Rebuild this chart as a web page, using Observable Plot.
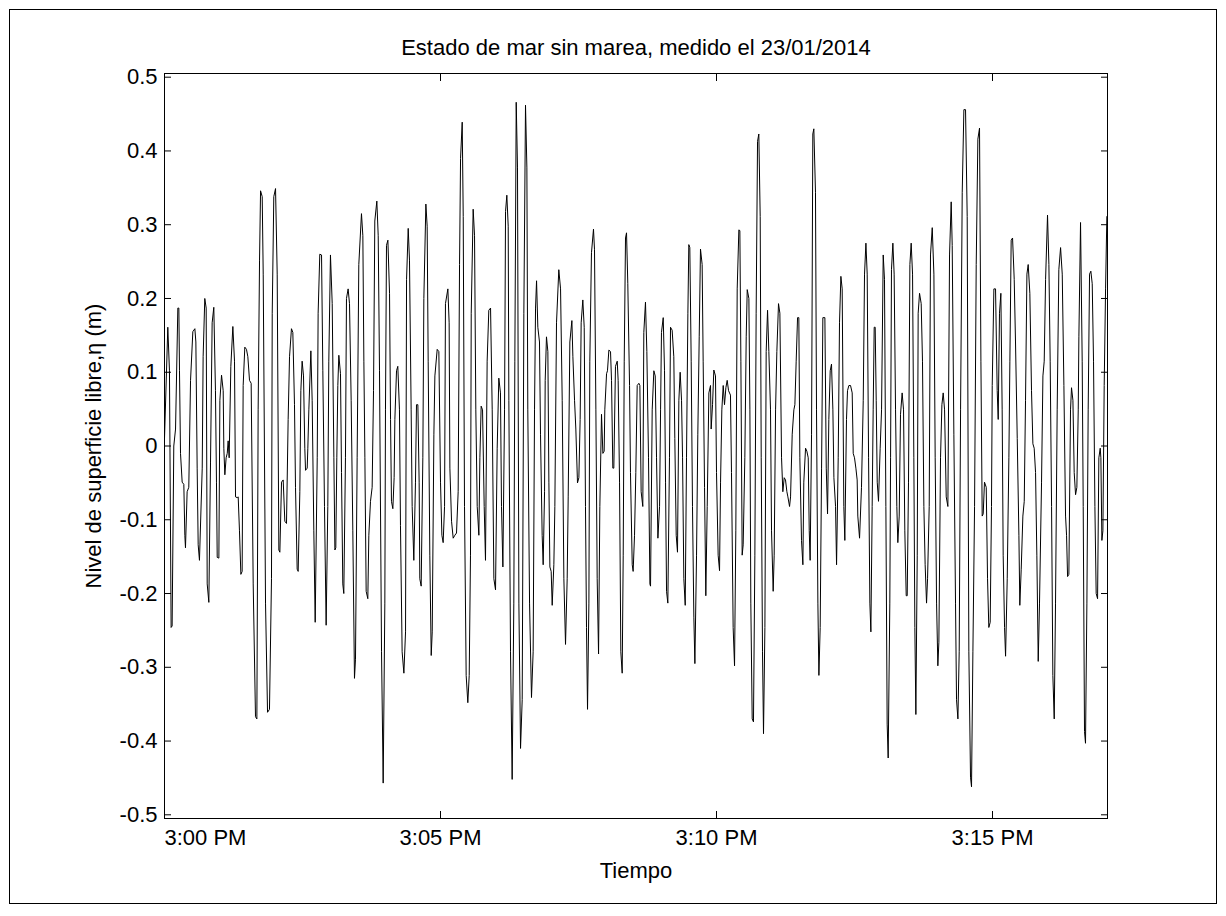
<!DOCTYPE html>
<html>
<head>
<meta charset="utf-8">
<script src="https://cdn.jsdelivr.net/npm/d3@7"></script>
<script src="https://cdn.jsdelivr.net/npm/@observablehq/plot@0.6"></script>
<style>
  html, body { margin: 0; padding: 0; background: #fff; }
  #fig { position: relative; width: 1226px; height: 916px; }
  #edge { position: absolute; left: 9px; top: 9px; width: 1208px; height: 895px;
          border: 1px solid #000; box-sizing: border-box; pointer-events: none; }
  #fig svg { position: absolute; left: 0; top: 0; }
</style>
</head>
<body>
<div id="fig"><div id="edge"></div></div>
<script>
// Free-surface elevation record, 23/01/2014 from 3:00 PM.
// Each pair is [seconds after 15:00:00, eta in metres].
const trace1 = [
  [0,0.010],[3.6,0.161],[5.4,0.102],[7.2,-0.246],[8.3,-0.244],[10.1,0.000],[12.0,0.023],[14.5,0.187],
  [15.6,0.187],[16.3,0.102],[17.4,-0.010],[19.2,-0.049],[21.0,-0.052],[22.1,-0.121],[22.8,-0.138],
  [24.6,-0.062],[26.4,-0.056],[28.3,0.089],[30.8,0.155],[33.0,0.159],[34.1,0.141],[35.5,-0.030],
  [36.6,-0.134],[38.0,-0.155],[41.0,-0.030],[42.0,0.121],[43.8,0.200],[45.3,0.187],[46.4,-0.187],
  [48.2,-0.212],[50.0,-0.023],[51.8,0.167],[53.6,0.188],[55.4,0.075],[56.5,-0.049],[57.3,-0.151],
  [59.1,-0.152],[60.2,0.062],[62.0,0.096],[63.8,0.075],[64.5,-0.003],[65.6,-0.039],[67.0,-0.016],
  [68.2,-0.010],[69.2,0.007],[70.3,-0.016],[72.1,0.108],[74.3,0.162],[76.1,0.115],[77.2,-0.069],
  [79.0,-0.070],[80.1,-0.069],[81.5,-0.115],[83.0,-0.174],[84.4,-0.170],[85.5,0.082],[87.3,0.134],
  [89.1,0.131],[90.6,0.121],[92.4,0.089],[94.2,0.085],[96.4,-0.187],[98.9,-0.367],[100.4,-0.370],
  [101.8,0.049],[103.3,0.252],[104.4,0.346],[106.2,0.338],[107.3,0.233],[109.8,-0.213],[112.0,-0.361],
  [114.1,-0.357],[116.3,-0.180],[117.1,0.180],[118.8,0.338],[120.7,0.349]
];
const trace2 = [
  [122.5,0.233],[124.3,-0.141],[125.4,-0.144],[127.2,-0.049],[129.0,-0.046],[130.8,-0.102],[132.6,-0.105],
  [134.4,0.036],[135.9,0.121],[138.0,0.159],[139.5,0.154],[141.3,0.056],[142.4,-0.056],[144.2,-0.167],
  [145.3,-0.170],[147.1,-0.062],[148.2,0.075],[149.6,0.115],[151.1,0.095],[152.5,-0.003],[153.3,-0.033],
  [155.1,-0.030],[155.8,-0.003],[156.9,0.049],[159.1,0.129],[160.5,0.062],[162.3,-0.115],[163.8,-0.239],
  [166.0,-0.016],[167.0,0.180],[168.8,0.260],[170.7,0.259],[172.1,0.102],[173.9,-0.082],[175.7,-0.243],
  [177.5,-0.082],[178.6,0.115],[180.4,0.259],[182.3,0.193],[184.1,-0.016],[185.2,-0.141],[186.2,-0.138],
  [187.3,-0.016],[188.4,0.082],[189.5,0.123],[191.3,0.098],[192.4,-0.036],[193.8,-0.187],[194.9,-0.200],
  [196.7,-0.016],[197.8,0.200],[199.6,0.213],[201.1,0.193],[202.9,0.062],[204.7,-0.115],[206.5,-0.315],
  [207.6,-0.289],[209.4,-0.016],[211.2,0.246],[214.1,0.315],[215.6,0.285],[216.7,0.115],[217.8,-0.016],
  [219.2,-0.197],[221.0,-0.207],[222.1,-0.121],[223.9,-0.075],[225.7,-0.056],[227.2,0.075],[228.6,0.305],
  [230.8,0.332],[232.3,0.285],[233.7,0.102],[235.9,-0.279],[237.7,-0.457],[239.5,-0.213],[240.2,0.049],
  [241.3,0.272],[242.8,0.279],[244.6,0.207],[245.7,0.036],[246.7,-0.075],[248.2,-0.085],[249.6,-0.043]
];
const trace3 = [
  [250.4,0.036],[252.2,0.102],[253.6,0.108],[255.4,0.049],[256.5,-0.108],[258.3,-0.279],[260.2,-0.308],
  [262.0,-0.252],[263.1,0.226],[264.9,0.295],[266.3,0.252],[268.1,0.049],[269.2,-0.082],[271.0,-0.155],
  [272.8,-0.049],[273.9,0.056],[275.4,0.056],[276.8,-0.049],[277.5,-0.180],[279.0,-0.190],[280.8,-0.016],
  [281.9,0.200],[284.1,0.328],[285.5,0.298],[286.6,0.115],[288.4,-0.148],[289.9,-0.284],[291.0,-0.252],
  [292.8,0.016],[293.9,0.095],[296.4,0.131],[298.2,0.128],[300.0,-0.049],[301.5,-0.121],[302.9,-0.131],
  [304.4,-0.082],[305.4,0.193],[308.0,0.213],[309.4,0.167],[310.2,-0.030],[312.0,-0.102],[313.8,-0.125],
  [315.6,-0.121],[317.4,-0.118],[319.2,-0.062],[320.7,0.246],[321.8,0.390],[323.6,0.439],[324.7,0.311],
  [326.1,-0.082],[327.9,-0.311],[329.7,-0.348],[331.2,-0.311],[332.6,-0.148],[333.4,0.180],[335.5,0.321],
  [337.0,0.285],[338.4,0.049],[339.9,-0.082],[341.7,-0.121],[342.8,-0.016],[344.2,0.054],[345.7,0.049],
  [347.5,-0.082],[348.9,-0.155],[350.7,0.115],[352.5,0.184],[354.4,0.187],[356.2,0.049],[358.0,-0.180],
  [359.8,-0.195],[361.6,-0.003],[363.4,0.092],[365.2,0.072],[366.3,-0.082],[367.8,-0.164],[369.6,0.049],
  [370.7,0.318],[372.1,0.340],[373.6,0.298]
];
const trace4 = [
  [374.3,0.062],[376.1,-0.279],[377.9,-0.452],[379.7,-0.213],[380.8,0.115],[382.3,0.466],[383.7,0.377],
  [385.2,-0.213],[387.0,-0.410],[388.8,-0.344],[390.6,0.180],[392.4,0.462],[393.9,0.377],[394.9,0.049],
  [396.8,-0.213],[398.9,-0.341],[400.7,-0.279],[402.2,0.049],[403.3,0.187],[404.4,0.224],[405.8,0.161],
  [407.6,0.141],[408.7,0.016],[410.5,-0.121],[411.6,-0.161],[413.1,-0.062],[413.8,0.089],[415.2,0.148],
  [416.7,0.128],[417.8,-0.049],[418.9,-0.164],[420.3,-0.170],[421.4,-0.216],[423.2,-0.161],[424.3,-0.082],
  [426.1,0.167],[428.6,0.239],[430.5,0.213],[432.3,0.062],[434.1,-0.180],[435.9,-0.269],[437.7,-0.180],
  [438.8,-0.069],[440.6,0.141],[442.8,0.170],[443.9,0.121],[445.7,0.062],[447.1,0.023],[448.9,-0.050],
  [450.4,-0.043],[451.8,0.036],[452.9,0.167],[454.7,0.198],[456.2,0.161],[457.6,-0.082],[458.7,-0.246],
  [459.8,-0.357],[461.3,-0.213],[462.3,0.115],[464.1,0.262],[466.3,0.294],[467.4,0.266],[468.9,0.049],
  [470.3,-0.180],[471.8,-0.282],[473.2,-0.082],[475.0,0.043],[476.5,-0.010],[477.9,-0.007],[478.6,0.049],
  [480.5,0.098],[481.5,0.102],[483.0,0.130],[484.8,0.128],[485.9,0.089],[487.3,-0.030],[488.4,-0.030],
  [490.2,0.108],[492.1,0.115],[493.1,0.089],[494.6,-0.049],[496.0,-0.279],[497.5,-0.308],[498.6,-0.148],
  [499.7,0.115],[501.1,0.282]
];
const trace5 = [
  [502.2,0.289],[503.6,0.220],[505.5,0.082],[506.5,-0.036],[508.4,-0.161],[509.4,-0.170],[510.9,-0.121],
  [512.3,-0.036],[513.8,0.082],[515.6,0.085],[516.7,0.082],[518.1,-0.062],[519.9,-0.082],[521.0,0.154],
  [522.8,0.195],[524.3,0.128],[526.1,-0.016],[527.6,-0.187],[528.3,-0.190],[530.1,0.049],[531.9,0.102],
  [533.4,0.095],[534.8,-0.016],[536.3,-0.125],[538.1,-0.082],[539.2,0.049],[540.2,0.154],[542.1,0.174],
  [543.5,0.102],[544.6,-0.049],[545.7,-0.197],[547.1,-0.213],[548.9,-0.016],[550.0,0.161],[551.8,0.157],
  [553.6,0.121],[554.7,0.010],[556.2,-0.121],[557.6,-0.144],[559.1,0.062],[560.5,0.100],[562.0,0.062],
  [563.1,-0.016],[564.5,-0.180],[566.0,-0.216],[567.4,-0.016],[568.9,0.180],[569.9,0.273],[571.0,0.269],
  [572.5,0.115],[573.9,-0.082],[575.4,-0.233],[576.5,-0.295],[578.3,-0.148],[579.7,0.016],[581.2,0.148],
  [582.6,0.267],[584.4,0.246],[585.5,0.115],[587.0,-0.056],[588.4,-0.203],[589.9,-0.082],[591.7,0.072],
  [593.5,0.082],[594.2,0.023],[595.7,0.056],[597.1,0.103],[598.9,0.095],[600.0,-0.036],[601.8,-0.148],
  [603.3,-0.169],[604.4,-0.049],[605.8,0.049],[607.3,0.082],[608.7,0.056],[610.2,0.079],[611.6,0.089],
  [613.1,0.075],[615.2,0.069],[616.3,-0.036],[618.1,-0.246],[619.6,-0.298],[621.0,-0.115],[622.5,0.213],
  [624.3,0.293],[625.4,0.292]
];
const trace6 = [
  [626.5,0.115],[627.9,-0.148],[629.0,-0.134],[630.8,-0.016],[632.3,0.148],[633.4,0.212],[635.2,0.200],
  [636.3,0.049],[637.3,-0.213],[638.8,-0.370],[640.2,-0.374],[641.7,-0.148],[643.1,0.180],[644.6,0.413],
  [646.0,0.423],[647.5,0.311],[648.6,-0.016],[650.0,-0.279],[651.1,-0.390],[652.6,-0.246],[654.0,0.128],
  [655.5,0.184],[656.9,0.128],[658.7,0.049],[659.8,-0.115],[661.6,-0.197],[662.7,-0.148],[664.2,0.049],
  [665.6,0.128],[667.4,0.193],[668.9,0.180],[670.7,-0.016],[672.1,-0.062],[673.6,-0.043],[675.0,-0.046],
  [676.5,-0.062],[677.6,-0.069],[679.4,-0.082],[680.5,-0.069],[682.3,0.016],[684.1,0.049],[685.2,0.056],
  [686.6,0.115],[688.1,0.174],[689.5,0.174],[690.6,-0.016],[692.4,-0.128],[693.9,-0.161],[694.9,-0.049],
  [696.8,-0.003],[698.2,-0.007],[699.7,-0.016],[700.8,-0.115],[701.8,-0.155],[703.3,0.016],[704.7,0.423],
  [705.8,0.430],[707.6,0.344],[708.7,0.049],[710.2,-0.213],[711.3,-0.311],[712.7,-0.246],[714.2,-0.030],
  [715.6,0.174],[717.8,0.174],[719.3,-0.030],[720.7,-0.092],[722.1,0.036],[723.6,0.102],[725.0,0.111],
  [726.5,0.049],[727.6,-0.043],[729.4,-0.082],[730.5,-0.161],[732.3,-0.016],[733.7,0.167],[735.2,0.230],
  [736.6,0.213],[738.4,-0.082],[739.5,-0.128],[741.3,0.036],[742.4,0.075],[743.9,0.082],[745.7,0.082],
  [747.5,0.072]
];
const trace7 = [
  [748.6,-0.010],[750.0,-0.016],[751.5,-0.030],[752.9,-0.046],[753.6,-0.095],[755.5,-0.125],[757.6,-0.056],
  [759.5,0.062],[760.9,0.233],[762.4,0.275],[763.8,0.233],[765.3,-0.016],[766.7,-0.213],[767.8,-0.252],
  [769.2,-0.082],[770.3,0.049],[771.4,0.161],[772.5,0.161],[773.6,0.062],[774.7,-0.049],[776.1,-0.075],
  [777.9,-0.003],[779.4,0.049],[781.2,0.259],[782.6,0.226],[784.1,-0.082],[785.5,-0.377],[786.6,-0.423],
  [788.4,-0.213],[789.2,-0.016],[790.2,0.239],[791.7,0.275],[793.1,0.233],[794.6,0.049],[796.0,-0.082],
  [797.1,-0.131],[798.6,-0.095],[800.0,0.043],[801.8,0.072],[803.3,0.049],[804.7,-0.115],[806.2,-0.203],
  [807.3,-0.203],[808.7,-0.049],[810.2,0.246],[811.6,0.275],[813.1,0.233],[814.5,-0.016],[815.6,-0.246],
  [816.7,-0.364],[818.2,-0.148],[819.2,0.180],[820.7,0.207],[822.5,0.193],[823.9,0.115],[825.4,-0.082],
  [826.8,-0.161],[828.3,-0.213],[829.4,-0.180],[831.2,-0.082],[832.6,0.259],[834.5,0.296],[836.3,0.233],
  [837.7,-0.016],[839.2,-0.213],[840.6,-0.298],[841.7,-0.266],[843.5,-0.016],[845.0,0.056],[846.4,0.072],
  [847.9,0.049],[849.7,-0.069],[851.5,-0.082],[853.3,0.259],[855.1,0.331],[856.2,0.272],[858.0,0.016],
  [859.8,-0.213],[860.9,-0.344],[862.4,-0.370],[863.8,-0.279],[865.3,0.049],[867.1,0.344],[868.9,0.456],
  [870.7,0.456]
];
const trace8 = [
  [872.5,0.311],[874.3,-0.279],[876.1,-0.449],[877.2,-0.462],[878.7,-0.279],[880.5,-0.082],[882.3,0.246],
  [884.1,0.416],[885.9,0.431],[887.4,0.115],[888.8,-0.095],[889.9,-0.092],[891.3,-0.049],[893.2,-0.056],
  [894.6,-0.180],[896.0,-0.246],[897.5,-0.239],[898.9,-0.082],[899.7,0.082],[901.5,0.213],[903.3,0.213],
  [905.1,0.075],[906.2,0.036],[907.6,0.180],[909.1,0.207],[910.5,0.049],[911.6,-0.148],[913.1,-0.246],
  [914.2,-0.285],[916.0,-0.180],[917.8,-0.016],[918.9,0.115],[920.3,0.279],[921.8,0.282],[923.6,0.226],
  [925.0,0.141],[926.9,0.010],[928.7,-0.121],[929.7,-0.216],[931.2,-0.167],[933.0,-0.095],[934.5,-0.075],
  [935.9,0.062],[937.4,0.233],[938.8,0.246],[940.6,0.207],[942.4,0.075],[943.9,0.003],[945.3,-0.003],
  [946.8,-0.036],[948.2,-0.148],[949.7,-0.292],[951.1,-0.213],[953.3,-0.049],[954.8,0.095],[956.2,0.115],
  [957.7,0.226],[959.8,0.313],[961.3,0.246],[962.7,0.115],[964.2,-0.082],[965.6,-0.311],[967.1,-0.370],
  [968.5,-0.213],[970.3,0.049],[972.1,0.239],[974.0,0.269],[975.8,0.233],[977.6,0.082],[979.4,-0.095],
  [980.5,-0.121],[981.6,-0.177],[983.0,-0.174],[984.8,0.049],[985.9,0.079],[987.4,0.062],[988.8,-0.036],
  [990.3,-0.066],[991.7,-0.056],[993.2,0.049],[993.9,0.148],[995.7,0.303],[997.5,0.115],[998.6,-0.082],
  [1000.0,-0.387],[1001.1,-0.403],[1002.6,-0.213],[1004.0,0.049],[1005.5,0.233],[1006.9,0.237],
  [1008.4,0.220],[1009.8,0.115],[1011.3,-0.082],[1012.7,-0.200],[1014.2,-0.207],[1015.6,-0.016],
  [1017.1,-0.003],[1017.8,-0.016],[1018.9,-0.128],[1020.0,-0.115],[1021.4,0.082],[1022.9,0.213],[1024.3,0.311]
];

// Axis ticks
const yTicks = [-0.5, -0.4, -0.3, -0.2, -0.1, 0, 0.1, 0.2, 0.3, 0.4, 0.5];
const yTickLabels = ["-0.5", "-0.4", "-0.3", "-0.2", "-0.1", "0", "0.1", "0.2", "0.3", "0.4", "0.5"];
const xTickMinutes = [0, 5, 10, 15];
const xTickLabels = ["3:00 PM", "3:05 PM", "3:10 PM", "3:15 PM"];
const recordSeconds = 1025;

const titleText = "Estado de mar sin marea, medido el 23/01/2014";
const xLabel = "Tiempo";
const yLabel = "Nivel de superficie libre,\u03b7 (m)";

const t0 = Date.UTC(2014, 0, 23, 15, 0, 0);
const at = (s) => new Date(t0 + s * 1000);
const samples = [trace1, trace2, trace3, trace4, trace5, trace6, trace7, trace8]
  .flat()
  .map(([s, v]) => ({time: at(s), eta: v}));
const xTicks = xTickMinutes.map((m) => at(m * 60));
const yFmt = (d) => yTickLabels[yTicks.findIndex((v) => Math.abs(v - d) < 1e-9)];
const xFmt = (d) => xTickLabels[xTickMinutes.indexOf(Math.round((d - t0) / 60000))];

const font = "'Liberation Sans', Arial, Helvetica, sans-serif";

const chart = Plot.plot({
  width: 1226,
  height: 916,
  marginLeft: 164,
  marginRight: 119,
  marginTop: 73,
  marginBottom: 98,
  style: {fontFamily: font, fontSize: "22px", color: "#000", background: "transparent", overflow: "visible"},
  x: {type: "utc", domain: [at(0), at(recordSeconds)]},
  y: {domain: [-0.505, 0.505]},
  marks: [
    Plot.frame({stroke: "#000", strokeWidth: 1}),
    Plot.axisY({ticks: yTicks, tickSize: -7, tickPadding: 14, tickFormat: yFmt, label: null, fill: "#000"}),
    Plot.axisY({anchor: "right", ticks: yTicks, tickSize: -7, tickFormat: () => "", label: null}),
    // first time label starts at the left edge of the frame, the others are centred on their ticks
    Plot.axisX({ticks: xTicks.slice(1), tickSize: -7, tickPadding: 18, tickFormat: xFmt, label: null, fill: "#000"}),
    Plot.axisX({ticks: xTicks.slice(0, 1), tickSize: -7, tickPadding: 18, tickFormat: xFmt, label: null,
                fill: "#000", textAnchor: "start"}),
    Plot.axisX({anchor: "top", ticks: xTicks, tickSize: -7, tickFormat: () => "", label: null}),
    Plot.line(samples, {x: "time", y: "eta", stroke: "#000", strokeWidth: 1}),
    Plot.text([titleText], {frameAnchor: "top", dy: -26, lineAnchor: "middle", textAnchor: "middle", fill: "#000"}),
    Plot.text([xLabel], {frameAnchor: "bottom", dy: 52, lineAnchor: "middle", textAnchor: "middle", fill: "#000"}),
    Plot.text([yLabel], {frameAnchor: "left", dx: -71, rotate: -90, lineAnchor: "middle", textAnchor: "middle", fill: "#000"})
  ]
});

document.getElementById("fig").appendChild(chart);
</script>
</body>
</html>
